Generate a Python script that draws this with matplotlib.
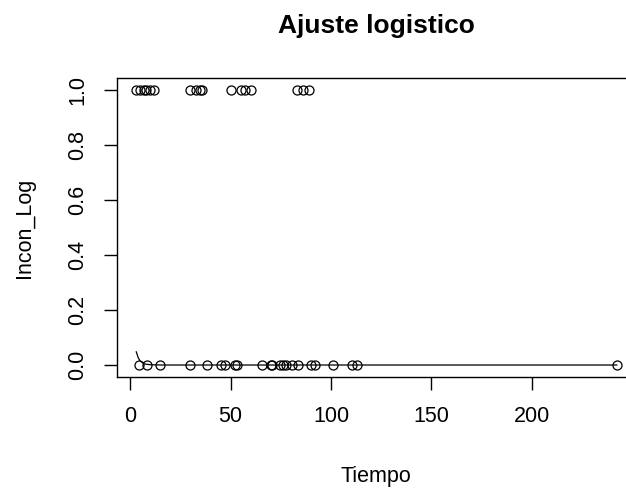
import matplotlib
matplotlib.use("Agg")
import matplotlib.pyplot as plt

# valores
tiempo_1 = [3, 5, 7, 8, 10, 12, 30, 33, 35, 36, 50, 55, 57, 60, 83, 86, 89]
tiempo_0 = [4.3, 8.1, 15, 30, 38, 45, 47, 52, 53, 65.4, 70, 70.5, 74.8, 76, 77.4,
            80.7, 83.4, 90.2, 92.2, 100.8, 110.3, 112.8, 242.4]
ajuste_x = [3, 4, 5, 7, 10, 15, 242.4]
ajuste_y = [0.048, 0.026, 0.014, 0.004, 0.001, 0.0, 0.0]

xticks = [0, 50, 100, 150, 200]
yticks = [0.0, 0.2, 0.4, 0.6, 0.8, 1.0]

plt.rcParams['font.family'] = ['Liberation Sans', 'DejaVu Sans']
fs = 15.5

fig = plt.figure(figsize=(6.26, 4.88), dpi=100)
ax = fig.add_axes([117 / 626, 1 - 376.7 / 488, (635 - 117) / 626, (376.7 - 78) / 488])

ax.plot(tiempo_1, [1] * len(tiempo_1), 'o', mfc='none', mec='black', ms=6.5, mew=0.9)
ax.plot(tiempo_0, [0] * len(tiempo_0), 'o', mfc='none', mec='black', ms=6.5, mew=0.9)
ax.plot(ajuste_x, ajuste_y, color='black', lw=0.9)

ax.set_xlim(-6.6, 251.5)
ax.set_ylim(-0.0425, 1.044)
ax.set_xticks(xticks)
ax.set_yticks(yticks)
ax.set_xticklabels([str(t) for t in xticks])
ax.set_yticklabels([f"{t:.1f}" for t in yticks])
ax.tick_params(length=9.4, width=1.0, pad=11.5, labelsize=fs, colors='black')
plt.setp(ax.get_yticklabels(), rotation=90, va='center')
for s in ax.spines.values():
    s.set_linewidth(1.0)

fig.text(376 / 626, 1 - 33 / 488, 'Ajuste logistico', ha='center', va='baseline',
         fontsize=19, fontweight='bold')
fig.text(376 / 626, 1 - 482 / 488, 'Tiempo', ha='center', va='baseline', fontsize=fs)
fig.text(24.5 / 626, 1 - 227.5 / 488, 'Incon_Log', ha='center', va='center',
         rotation=90, fontsize=fs)

fig.savefig('out.png', dpi=100)
